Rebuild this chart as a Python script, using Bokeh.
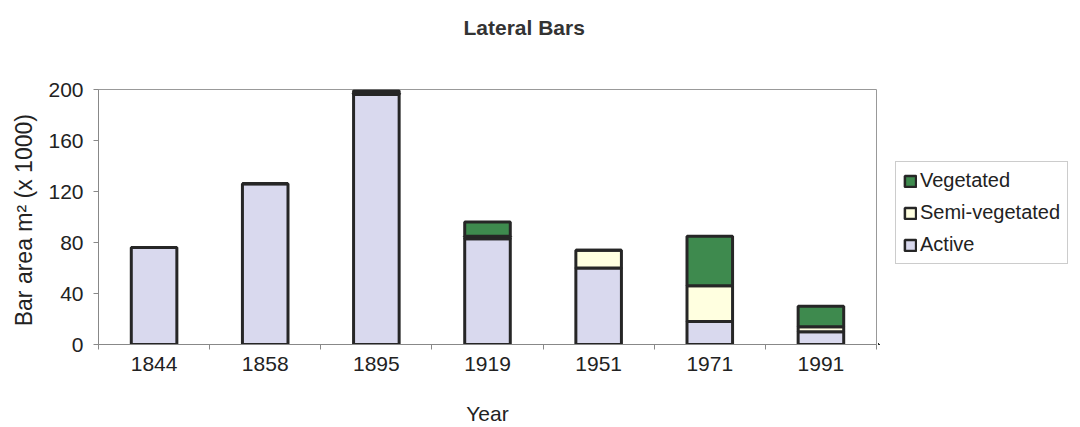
from bokeh.plotting import figure
from bokeh.layouts import row
from bokeh.models import ColumnDataSource, FixedTicker, Legend, LegendItem, Range1d, Title
from bokeh.embed import file_html
from bokeh.resources import INLINE

years = ["1844", "1858", "1895", "1919", "1951", "1971", "1991"]
active = [76, 126, 196, 83, 60, 18, 10]
semi_vegetated = [0, 0, 1, 2, 14, 28, 4]
vegetated = [0, 0, 2, 11, 0, 39, 16]

FONT = "Liberation Sans"
stack = ["Active", "Semi-vegetated", "Vegetated"]
colors = {"Active": "#d9d9ee", "Semi-vegetated": "#ffffe0", "Vegetated": "#3e8a4e"}

xs = [i + 0.5 for i in range(len(years))]
src = ColumnDataSource(dict(x=xs, years=years, Active=active,
                            **{"Semi-vegetated": semi_vegetated, "Vegetated": vegetated}))

p = figure(width=878, height=427, output_backend="svg", toolbar_location=None,
           x_range=Range1d(0, len(years)), y_range=Range1d(0, 200),
           min_border_left=98, min_border_right=2, min_border_top=89, min_border_bottom=81)

# spacer (nearest the frame) then the real title above it
spacer = Title(text=" ", text_font=FONT, text_font_size="10px", standoff=33)
p.add_layout(spacer, "above")
title = Title(text="Lateral Bars", text_font=FONT, text_font_size="21px",
              text_font_style="bold", text_color="#333333", align="left",
              offset=365, standoff=10)
p.add_layout(title, "above")

p.vbar_stack(stack, x="x", width=0.41, source=src,
             fill_color=[colors[s] for s in stack],
             line_color="#262626", line_width=3)

p.xgrid.visible = False
p.ygrid.visible = False
p.outline_line_color = "#999999"
p.background_fill_color = "white"

p.xaxis.ticker = FixedTicker(ticks=xs, minor_ticks=list(range(len(years) + 1)))
p.xaxis.major_label_overrides = {x: y for x, y in zip(xs, years)}
p.xaxis.major_tick_line_color = None
p.xaxis.major_tick_in = 0
p.xaxis.major_tick_out = 0
p.xaxis.minor_tick_in = 0
p.xaxis.minor_tick_out = 5
p.xaxis.minor_tick_line_color = "#888888"
p.xaxis.axis_label = "Year"

p.yaxis.ticker = FixedTicker(ticks=[0, 40, 80, 120, 160, 200], minor_ticks=[])
p.yaxis.major_tick_in = 0
p.yaxis.major_tick_out = 5
p.yaxis.major_tick_line_color = "#888888"
p.yaxis.axis_label = "Bar area  m\u00b2 (x 1000)"

for ax in (p.xaxis, p.yaxis):
    ax.axis_line_color = "#888888"
    ax.major_label_text_font = FONT
    ax.major_label_text_font_size = "21px"
    ax.major_label_text_color = "#222222"
    ax.axis_label_text_font = FONT
    ax.axis_label_text_font_size = "21px"
    ax.axis_label_text_font_style = "normal"
    ax.axis_label_text_color = "#222222"
p.yaxis.axis_label_text_font_size = "23px"
p.xaxis.major_label_standoff = 7
p.xaxis.axis_label_standoff = 28
p.yaxis.major_label_standoff = 10
p.yaxis.axis_label_standoff = 8

# legend lives in its own narrow figure to the right of the chart
lf = figure(width=202, height=427, output_backend="svg", toolbar_location=None,
            x_range=Range1d(100, 101), y_range=Range1d(1000, 1001),
            x_axis_type=None, y_axis_type=None,
            min_border_left=0, min_border_right=0, min_border_top=0, min_border_bottom=0)
lf.xgrid.visible = False
lf.ygrid.visible = False
lf.outline_line_color = None
lrs = lf.vbar_stack(stack, x="x", width=0.41, source=src,
                    fill_color=[colors[s] for s in stack],
                    line_color="#262626", line_width=2.5)

items = [LegendItem(label=s, renderers=[r]) for s, r in zip(stack, lrs)][::-1]
leg = Legend(items=items, location=(17, 80), orientation="vertical",
             label_text_font=FONT, label_text_font_size="20px", label_text_color="#222222",
             glyph_width=14, glyph_height=14, spacing=9, label_height=22, label_standoff=3,
             padding=7, margin=0, border_line_color="#999999", background_fill_alpha=1)
lf.add_layout(leg)

layout = row(p, lf, spacing=0)
open("out.html", "w").write(file_html(layout, INLINE))
